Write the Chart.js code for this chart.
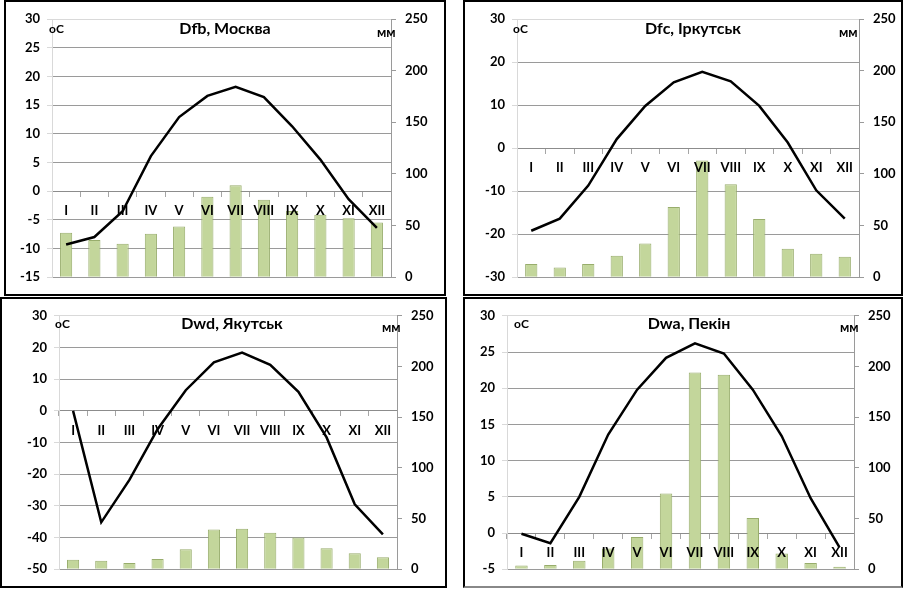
<!DOCTYPE html>
<html>
<head>
<meta charset="utf-8">
<script src="https://cdn.jsdelivr.net/npm/chart.js@4.4.1/dist/chart.umd.min.js"></script>
<style>
  html, body { margin: 0; padding: 0; background: #fff; }
  body { width: 904px; height: 589px; position: relative; overflow: hidden; font-family: Lato, "Open Sans", sans-serif; }
  .panel { position: absolute; box-sizing: border-box; border: 2px solid #000; background: #fff; }
  canvas { position: absolute; }
  .t { position: absolute; font-weight: bold; color: #000; white-space: nowrap; transform: translate(-50%, -50%); font-size: 16px; }
  .u { position: absolute; font-weight: bold; color: #000; white-space: nowrap; transform: translateY(-50%); font-size: 12px; }
  .m { font-size: 13px; }
</style>
</head>
<body>
<div class="panel" style="left:4px;top:0px;width:442px;height:296px;"></div>
<div class="panel" style="left:463px;top:0px;width:440px;height:296px;"></div>
<div class="panel" style="left:0px;top:297px;width:447px;height:291px;"></div>
<div class="panel" style="left:463px;top:297px;width:440px;height:291px;border-bottom-color:#888;"></div>

<canvas id="c1" width="438" height="292" style="left:6px;top:2px;"></canvas>
<canvas id="c2" width="436" height="292" style="left:465px;top:2px;"></canvas>
<canvas id="c3" width="443" height="287" style="left:2px;top:299px;"></canvas>
<canvas id="c4" width="436" height="287" style="left:465px;top:299px;"></canvas>

<div class="t" style="left:225px;top:27px;">Dfb, Москва</div>
<div class="t" style="left:693px;top:27px;">Dfc, Іркутськ</div>
<div class="t" style="left:232px;top:322px;">Dwd, Якутськ</div>
<div class="t" style="left:689px;top:322px;">Dwa, Пекін</div>

<div class="u" style="left:49px;top:28px;">оС</div>
<div class="u" style="left:513px;top:28px;">оС</div>
<div class="u" style="left:55px;top:323px;">оС</div>
<div class="u" style="left:514px;top:323px;">оС</div>
<div class="u m" style="left:377px;top:32px;">мм</div>
<div class="u m" style="left:839px;top:32px;">мм</div>
<div class="u m" style="left:382px;top:327px;">мм</div>
<div class="u m" style="left:840px;top:327px;">мм</div>

<script>
// ---- Data ----
const months = ['I','II','III','IV','V','VI','VII','VIII','IX','X','XI','XII'];

const moscowTemp = [-9.3, -8.0, -3.5, 6.1, 12.9, 16.6, 18.2, 16.4, 11.3, 5.5, -1.4, -6.4];
const moscowPrec = [43, 36, 32.5, 42, 49, 78, 89, 75, 64, 60.5, 57, 53];

const irkutskTemp = [-19.2, -16.4, -8.7, 2.1, 9.8, 15.3, 17.7, 15.5, 9.8, 1.3, -9.8, -16.4];
const irkutskPrec = [12.8, 9.3, 12.8, 20.8, 32.7, 68, 113, 90, 56.4, 27.6, 22.8, 19.9];

const yakutskTemp = [0, -35.2, -21.8, -5.8, 6.5, 15.3, 18.4, 14.5, 6.0, -8.4, -29.5, -39.0];
const yakutskPrec = [9.3, 8.4, 6.1, 10, 19.6, 39.2, 39.9, 36, 31.2, 20.6, 15.8, 11.9];

const pekinTemp = [-0.1, -1.4, 5.0, 13.6, 19.8, 24.2, 26.2, 24.8, 19.8, 13.4, 4.8, -2.0];
const pekinPrec = [3.6, 4.2, 8.4, 20.3, 31.7, 74.6, 194, 191.9, 50.4, 15.5, 6.1, 2.3];

// axis ranges: [min, max, step]
const moscowTempAxis = [-15, 30, 5];
const irkutskTempAxis = [-30, 30, 10];
const yakutskTempAxis = [-50, 30, 10];
const pekinTempAxis = [-5, 30, 5];
const precAxis = [0, 250, 50];

const tickFont = { family: 'Lato, "Open Sans", sans-serif', size: 13, weight: 'bold' };

function build(id, temp, prec, tAxis, lay) {
  const ctx = document.getElementById(id);
  new Chart(ctx, {
    data: {
      labels: months,
      datasets: [
        {
          type: 'line', data: temp, yAxisID: 'y', order: 0,
          borderColor: '#000', borderWidth: 2.5, pointRadius: 0, tension: 0, fill: false
        },
        {
          type: 'bar', data: prec, yAxisID: 'y1', order: 1,
          backgroundColor: '#c3d69b', borderColor: '#98ad6c', borderWidth: 1,
          barPercentage: 0.43, categoryPercentage: 1.0
        }
      ]
    },
    options: {
      responsive: false, animation: false,
      layout: { padding: { top: lay.top, bottom: lay.bottom, left: 0, right: 0 } },
      plugins: { legend: { display: false }, tooltip: { enabled: false }, title: { display: false } },
      scales: {
        x: {
          type: 'category', position: { y: 0 }, offset: true,
          grid: { offset: true, drawOnChartArea: false, drawTicks: true, tickLength: 5, tickColor: '#a6a6a6' },
          border: { display: true, color: '#8c8c8c', width: 1 },
          ticks: { font: tickFont, color: '#000', padding: 7, z: 1, maxRotation: 0, autoSkip: false }
        },
        y: {
          position: 'left', min: tAxis[0], max: tAxis[1],
          afterFit: (s) => { s.width = lay.lw; },
          ticks: { stepSize: tAxis[2], font: tickFont, color: '#000', padding: 7 },
          grid: {
            color: (c) => (c.tick && c.tick.value === tAxis[1]) ? '#d9d9d9' : '#9a9a9a',
            tickColor: '#d9d9d9', tickLength: 5, lineWidth: 1
          },
          border: { display: true, color: '#d9d9d9' }
        },
        y1: {
          position: 'right', min: precAxis[0], max: precAxis[1],
          afterFit: (s) => { s.width = lay.rw; },
          ticks: { stepSize: precAxis[2], font: tickFont, color: '#000', padding: 9 },
          grid: { drawOnChartArea: false, tickLength: 5, tickColor: '#9a9a9a' },
          border: { display: true, color: '#9a9a9a' }
        }
      }
    }
  });
}

// canvas c1 at (6,2) 438x292 -> plot 52..391, 19..278
build('c1', moscowTemp, moscowPrec, moscowTempAxis, { top: 17, bottom: 16, lw: 46, rw: 53 });
// canvas c2 at (465,2) 436x292 -> plot 517..859, 19..279
build('c2', irkutskTemp, irkutskPrec, irkutskTempAxis, { top: 17, bottom: 15, lw: 52, rw: 42 });
// canvas c3 at (2,299) 443x287 -> plot 59..397, 314..573
build('c3', yakutskTemp, yakutskPrec, yakutskTempAxis, { top: 15, bottom: 13, lw: 57, rw: 48 });
// canvas c4 at (465,299) 436x287 -> plot 507..854, 314..572
build('c4', pekinTemp, pekinPrec, pekinTempAxis, { top: 15, bottom: 14, lw: 42, rw: 47 });
</script>
</body>
</html>
